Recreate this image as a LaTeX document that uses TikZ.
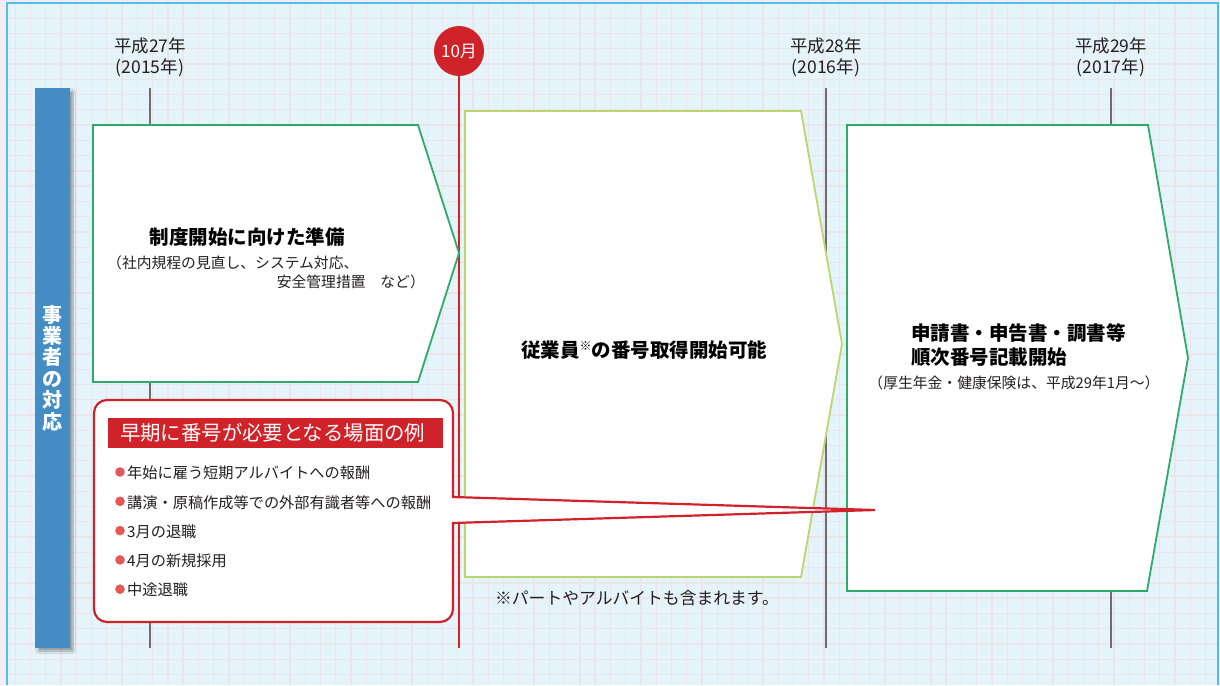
\documentclass[tikz,border=0pt]{standalone}
\usepackage{fontspec}
\setmainfont{Noto Sans CJK JP}
\usetikzlibrary{shadows.blur}

\definecolor{frameblue}{RGB}{80,190,232}
\definecolor{paper}{RGB}{229,244,251}
\definecolor{gridgray}{RGB}{233,229,232}
\definecolor{outside}{RGB}{243,236,246}
\definecolor{yeargray}{RGB}{110,110,113}
\definecolor{octred}{RGB}{207,34,41}
\definecolor{barblue}{RGB}{67,140,196}
\definecolor{boxgreen}{RGB}{46,170,106}
\definecolor{boxlime}{RGB}{186,214,110}
\definecolor{dotred}{RGB}{228,88,88}
\definecolor{inkgray}{RGB}{35,31,32}

\begin{document}
\begin{tikzpicture}[x=1pt, y=-1pt,
  yearline/.style={draw=yeargray, line width=2.4pt},
  yearlabel/.style={align=center, inner sep=0pt, text=inkgray, font=\fontsize{17.5pt}{21pt}\selectfont},
  stagebox/.style={draw=boxgreen, fill=white, line width=1.8pt},
  stagetitle/.style={inner sep=0pt, align=left, font=\bfseries\fontsize{19.5pt}{24pt}\selectfont},
  stagenote/.style={inner sep=0pt, text=inkgray, font=\fontsize{14.8pt}{18pt}\selectfont},
  callout/.style={draw=octred, fill=white, line width=2.2pt},
  item/.style={anchor=west, inner sep=0pt, text=inkgray, font=\fontsize{15.2pt}{18pt}\selectfont}]

  \useasboundingbox (0,0) rectangle (1220,685);
  \fill[outside] (0,0) rectangle (1220,685);
  \fill[paper] (7,3) rectangle (1218,685);
  % grid
  \begin{scope}
    \clip (7,3) rectangle (1218,685);
    \foreach \k in {1,...,80} \draw[gridgray, line width=1.3pt] ({15.26*\k},3) -- ({15.26*\k},685);
    \foreach \k in {1,...,44} \draw[gridgray, line width=1.3pt] (7,{3+15.26*\k}) -- (1218,{3+15.26*\k});
  \end{scope}
  \draw[frameblue, line width=2.2pt] (7,685) -- (7,3) -- (1218,3) -- (1218,685);

  % years
  \node[yearlabel] (y15) at (150,57.5) {平成27年\\(2015年)};
  \node[yearlabel] (y16) at (826,57.5) {平成28年\\(2016年)};
  \node[yearlabel] (y17) at (1111,57.5) {平成29年\\(2017年)};
  \coordinate (y15top) at (150,88);  \coordinate (y15bot) at (150,648);
  \coordinate (y16top) at (826,88);  \coordinate (y16bot) at (826,648);
  \coordinate (y17top) at (1111,88); \coordinate (y17bot) at (1111,648);
  \draw[yearline] (y15top) -- (y15bot);
  \draw[yearline] (y16top) -- (y16bot);
  \draw[yearline] (y17top) -- (y17bot);

  \node[circle, fill=octred, minimum size=50pt, inner sep=0pt, text=white, font=\fontsize{17pt}{20pt}\selectfont] (oct) at (459,51) {10月};
  \coordinate (octbot) at (459,648);
  \draw[octred, line width=2pt] (oct.south) -- (octbot);

  \node[fill=barblue, minimum width=35pt, minimum height=560pt, inner sep=0pt, text=white, align=center,
    font=\bfseries\fontsize{20pt}{21.4pt}\selectfont,
    blur shadow={shadow xshift=3pt, shadow yshift=-3pt, shadow blur steps=6, shadow opacity=35}] (side) at (52.5,368) {事\\業\\者\\の\\対\\応};

  % stages
  \draw[stagebox] (93,125) -- (418,125) -- (459,253) -- (418,382) -- (93,382) -- cycle;
  \node[stagetitle] (prep) at (247,237) {制度開始に向けた準備};
  \node[stagenote, anchor=west] (prepa) at (107,263) {（社内規程の見直し、システム対応、};
  \node[stagenote, anchor=east] (prepb) at (425,282) {安全管理措置　など）};

  \draw[stagebox, draw=boxlime] (465,111) -- (801,111) -- (842,344) -- (801,577) -- (465,577) -- cycle;
  \node[stagetitle] (staff) at (644,350) {従業員\raisebox{6.5pt}{\fontsize{12pt}{12pt}\selectfont ※}の番号取得開始可能};
  \node[inner sep=0pt, text=inkgray, font=\fontsize{16.8pt}{20pt}\selectfont] (parttime) at (637,598) {※パートやアルバイトも含まれます。};

  \draw[stagebox] (847,125) -- (1148,125) -- (1188,358) -- (1147,591) -- (847,591) -- cycle;
  \node[stagetitle, anchor=west] (forms) at (911,345) {申請書・申告書・調書等\\順次番号記載開始};
  \node[stagenote] (formsb) at (1014,383) {（厚生年金・健康保険は、平成29年1月〜）};

  % early cases
  \coordinate (tip) at (875,510);
  \draw[callout] [rounded corners=13pt] (273,400) -- (453,400) [sharp corners] -- (453,497) -- (tip) -- (453,523) [rounded corners=13pt] -- (453,622) -- (94,622) -- (94,400) -- cycle;
  \node[fill=octred, minimum width=335pt, minimum height=30pt, inner xsep=12pt, inner ysep=0pt, text width=311pt, align=left, text=white, font=\fontsize{20.4pt}{22pt}\selectfont] (early) at (275.5,433) {早期に番号が必要となる場面の例};
  \foreach \txt [count=\i] in {年始に雇う短期アルバイトへの報酬, 講演・原稿作成等での外部有識者等への報酬, 3月の退職, 4月の新規採用, 中途退職} {
    \node[item] (case\i) at (127,{473+29.3*(\i-1)}) {\txt};
    \fill[dotred] ([xshift=-7pt, yshift=1pt]case\i.west) circle (4.8pt);
  }
\end{tikzpicture}
\end{document}
